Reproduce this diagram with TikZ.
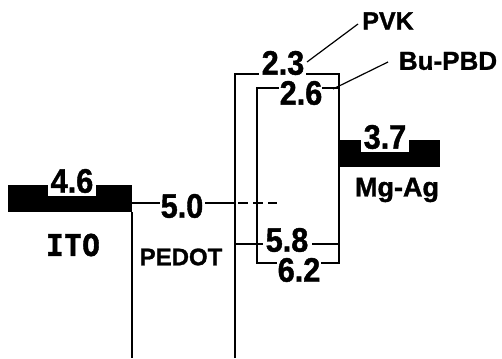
\documentclass[tikz,border=0pt]{standalone}
\usepackage{fontspec}
\newfontfamily\numfont[FakeStretch=0.9,FakeBold=1.2]{Liberation Sans}
\newfontfamily\labfont[FakeBold=1.2]{Liberation Sans}
\newfontfamily\itofont[FakeBold=1.2]{DejaVu Sans Mono}
\begin{document}
\begin{tikzpicture}[x=1pt,y=-1pt,
  lvl/.style={line width=2.3pt, line join=miter},
  lead/.style={line width=1.2pt},
  num/.style={inner sep=0pt, font=\numfont\bfseries\fontsize{34pt}{34pt}\selectfont},
  notch/.style={num, fill=white, inner sep=2.5pt},
  lab/.style={inner sep=0pt, font=\labfont\bfseries\fontsize{#1pt}{#1pt}\selectfont}]
\useasboundingbox (0,0) rectangle (502,358);
% electrodes
\fill (8,185) rectangle (132,212);
\fill (339,140) rectangle (440,167);
% coordinates
\coordinate (itoR) at (132,212);
\coordinate (itoB) at (132,358);
\coordinate (pA) at (132,203);
\coordinate (pB) at (160,203);
\coordinate (pC) at (205,203);
\coordinate (pD) at (235,203);
\coordinate (dA) at (238,203);
\coordinate (dB) at (277,203);
\coordinate (vB) at (235,358);
\coordinate (vTL) at (235,74);
\coordinate (vT1) at (259,74);
\coordinate (vT2) at (306,74);
\coordinate (vTR) at (339,74);
\coordinate (bBR) at (339,263);
\coordinate (bB2) at (321,263);
\coordinate (bB1) at (277,263);
\coordinate (bBL) at (257,263);
\coordinate (bTL) at (257,88);
\coordinate (bT1) at (279,88);
\coordinate (bT2) at (322,88);
\coordinate (bTR) at (339,88);
\coordinate (vH0) at (235,244);
\coordinate (vH1) at (263,244);
\coordinate (vH2) at (312,244);
\coordinate (vH3) at (339,244);
% levels
\draw[lvl] (itoR) -- (itoB);
\draw[lvl] (pA) -- (pB);
\draw[lvl] (pC) -- (pD);
\draw[line width=2pt, dash pattern=on 10pt off 5pt] (dA) -- (dB);
\draw[lvl] (vB) -- (vTL) -- (vT1);
\draw[lvl] (vT2) -- (vTR) -- (bBR) -- (bB2);
\draw[lvl] (bT1) -- (bTL) -- (bBL) -- (bB1);
\draw[lvl] (bT2) -- (bTR);
\draw[lvl] (vH0) -- (vH1);
\draw[lvl] (vH2) -- (vH3);
% numbers
\node[notch] (n46) at (72,181) {4.6};
\node[notch] (n37) at (385,137) {3.7};
\node[num] (n50) at (182,206) {5.0};
\node[num] (n23) at (283,63) {2.3};
\node[num] (n26) at (301,93) {2.6};
\node[num] (n58) at (287,240) {5.8};
\node[num] (n62) at (299,270) {6.2};
% labels
\node[lab=25] (pvk) at (388,21) {PVK};
\node[lab=26] (pbd) at (448,61) {Bu-PBD};
\node[lab=27] (mgag) at (397,190) {Mg-Ag};
\node[lab=24] (pedot) at (181,257) {PEDOT};
\node[inner sep=0pt, font=\itofont\bfseries\fontsize{30pt}{30pt}\selectfont] (ito) at (73,245) {ITO};
% leaders
\coordinate (l1a) at (307,62);
\coordinate (l1b) at (358,24);
\coordinate (l2a) at (333,89);
\coordinate (l2b) at (388,62);
\draw[lead] (l1a) -- (l1b);
\draw[lead] (l2a) -- (l2b);
\end{tikzpicture}
\end{document}
